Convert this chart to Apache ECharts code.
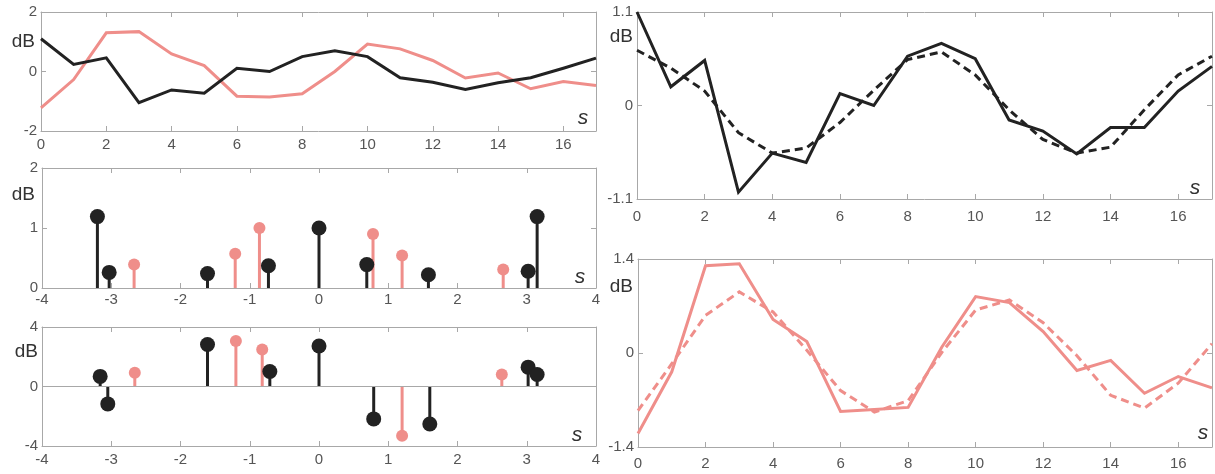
<!DOCTYPE html>
<html><head><meta charset="utf-8">
<script src="https://cdn.jsdelivr.net/npm/echarts@6/dist/echarts.min.js"></script>
<style>html,body{margin:0;padding:0;background:#fff}#c{width:1215px;height:474px}</style>
</head><body><div id="c"></div>
<script>
// ---------- data ----------
const sSteps = [0,1,2,3,4,5,6,7,8,9,10,11,12,13,14,15,16,17];
// top-left panel
const tlBlack = [1.1,0.24,0.46,-1.05,-0.62,-0.73,0.11,0.0,0.5,0.7,0.5,-0.21,-0.36,-0.6,-0.38,-0.21,0.11,0.45];
const tlPink  = [-1.22,-0.27,1.3,1.34,0.59,0.2,-0.83,-0.86,-0.75,0.0,0.92,0.76,0.37,-0.22,-0.05,-0.58,-0.34,-0.47];
// middle-left stems (frequency, magnitude)
const midBlackX = [-3.2,-3.03,-1.61,-0.73,0,0.69,1.58,3.02,3.15];
const midBlackY = [1.19,0.26,0.24,0.37,1.0,0.39,0.22,0.28,1.19];
const midPinkX  = [-2.67,-1.21,-0.86,0.78,1.2,2.66];
const midPinkY  = [0.39,0.57,1.0,0.9,0.54,0.31];
// bottom-left stems
const botBlackX = [-3.16,-3.05,-1.61,-0.71,0,0.79,1.6,3.02,3.15];
const botBlackY = [0.68,-1.17,2.82,1.01,2.72,-2.18,-2.52,1.3,0.81];
const botPinkX  = [-2.66,-1.2,-0.82,1.2,2.64];
const botPinkY  = [0.92,3.06,2.48,-3.31,0.81];
// top-right panel
const trSolid  = [1.1,0.22,0.53,-1.02,-0.56,-0.67,0.14,0.0,0.58,0.73,0.55,-0.17,-0.30,-0.57,-0.26,-0.26,0.17,0.46];
const trDashed = [0.65,0.44,0.17,-0.32,-0.56,-0.50,-0.20,0.18,0.54,0.63,0.36,-0.05,-0.40,-0.56,-0.49,-0.05,0.36,0.58];
// bottom-right panel
const brSolid  = [-1.2,-0.28,1.30,1.33,0.50,0.17,-0.87,-0.84,-0.81,0.09,0.84,0.75,0.32,-0.26,-0.11,-0.60,-0.35,-0.52];
const brDashed = [-0.86,-0.16,0.56,0.91,0.61,0.04,-0.56,-0.88,-0.71,0.01,0.64,0.79,0.45,-0.04,-0.63,-0.82,-0.45,0.14];
// tick settings
const yTicks = [[-2,2,2],[0,2,1],[-4,4,4],[-1.1,1.1,1.1],[-1.4,1.4,1.4]];
const xTicks = [[0,17,2],[-4,4,1],[-4,4,1],[0,17,2],[0,17,2]];

// ---------- layout ----------
const grids = [
  {left:41, top:12, width:555, height:119},
  {left:42, top:168, width:554, height:120},
  {left:42, top:327, width:554, height:119},
  {left:637, top:12, width:578, height:187},
  {left:638, top:259, width:577, height:188}
];
const xLabelMargin = [6,4,6,10,9];
const dbPos = [[35,42],[35,195],[38,352],[633,37],[633,287]];
const sPos  = [[583,118],[580,277],[577,435],[1195,188],[1203,433]];

const BLACK = '#222222', PINK = '#ef8e8a', AX = '#a8a8a8', LBL = '#555555';
const FONT = 'Liberation Sans, Arial, sans-serif';

const xAxis = [], yAxis = [];
grids.forEach((g, i) => {
  const [x0,x1,xi] = xTicks[i], [y0,y1,yi] = yTicks[i];
  const line = {show:true, onZero:false, lineStyle:{color:AX, width:1}};
  const tick = {show:true, inside:true, length:5, lineStyle:{color:AX, width:1}};
  const fmt = v => {
    if (Math.abs(v) < 1e-9) return '0';
    if (x1 === 17 && Math.abs(v - 17) < 1e-9) return '';
    return String(+v.toFixed(1));
  };
  xAxis.push({type:'value', gridIndex:i, position:'bottom', min:x0, max:x1, interval:xi,
    axisLine:line, axisTick:tick, splitLine:{show:false},
    axisLabel:{color:LBL, fontSize:15, fontFamily:FONT, margin:xLabelMargin[i], formatter:fmt}});
  xAxis.push({type:'value', gridIndex:i, position:'top', min:x0, max:x1, interval:xi,
    axisLine:line, axisTick:tick, splitLine:{show:false}, axisLabel:{show:false}});
  const yfmt = v => Math.abs(v) < 1e-9 ? '0' : String(+v.toFixed(1));
  yAxis.push({type:'value', gridIndex:i, position:'left', min:y0, max:y1, interval:yi,
    axisLine:line, axisTick:tick, splitLine:{show:false},
    axisLabel:{color:LBL, fontSize:15, fontFamily:FONT, margin:4, formatter:yfmt}});
  yAxis.push({type:'value', gridIndex:i, position:'right', min:y0, max:y1, interval:yi,
    axisLine:line, axisTick:tick, splitLine:{show:false}, axisLabel:{show:false}});
});

const pairs = (xs, ys) => xs.map((x, k) => [x, ys[k]]);
function lineSeries(gi, ys, color, dashed) {
  return {type:'line', xAxisIndex:2*gi, yAxisIndex:2*gi, data:pairs(sSteps, ys),
    symbol:'none', silent:true, animation:false,
    lineStyle:{color:color, width:3, type: dashed ? [8,5] : 'solid', cap:'butt', join:'miter'}};
}
function stemSeries(gi, xs, ys, color, r, zeroLine) {
  const s = {type:'custom', xAxisIndex:2*gi, yAxisIndex:2*gi, data:pairs(xs, ys), silent:true, animation:false,
    renderItem:(params, api) => {
      const x = api.value(0), y = api.value(1);
      const p0 = api.coord([x, 0]), p1 = api.coord([x, y]);
      return {type:'group', children:[
        {type:'line', shape:{x1:p0[0], y1:p0[1], x2:p1[0], y2:p1[1]}, style:{stroke:color, lineWidth:3}},
        {type:'circle', shape:{cx:p1[0], cy:p1[1], r:r}, style:{fill:color}}
      ]};
    }};
  if (zeroLine) {
    s.markLine = {silent:true, symbol:'none', animation:false, label:{show:false},
      lineStyle:{color:AX, width:1, type:'solid'}, data:[{yAxis:0}]};
  }
  return s;
}

const series = [
  lineSeries(0, tlPink, PINK, false),
  lineSeries(0, tlBlack, BLACK, false),
  stemSeries(1, midPinkX, midPinkY, PINK, 6, false),
  stemSeries(1, midBlackX, midBlackY, BLACK, 7.5, false),
  stemSeries(2, botPinkX, botPinkY, PINK, 6, true),
  stemSeries(2, botBlackX, botBlackY, BLACK, 7.5, false),
  lineSeries(3, trDashed, BLACK, true),
  lineSeries(3, trSolid, BLACK, false),
  lineSeries(4, brDashed, PINK, true),
  lineSeries(4, brSolid, PINK, false)
];

const graphic = [];
dbPos.forEach(p => graphic.push({type:'text', x:p[0], y:p[1], silent:true,
  style:{text:'dB', fill:'#333', font:'19px ' + FONT, textAlign:'right', textVerticalAlign:'middle'}}));
sPos.forEach(p => graphic.push({type:'text', x:p[0], y:p[1], silent:true,
  style:{text:'s', fill:'#333', font:'italic 21px ' + FONT, textAlign:'center', textVerticalAlign:'middle'}}));

const chart = echarts.init(document.getElementById('c'), null, {renderer:'canvas'});
chart.setOption({animation:false, backgroundColor:'#fff',
  grid:grids.map(g => Object.assign({containLabel:false}, g)),
  xAxis, yAxis, series, graphic});
</script>
</body></html>
